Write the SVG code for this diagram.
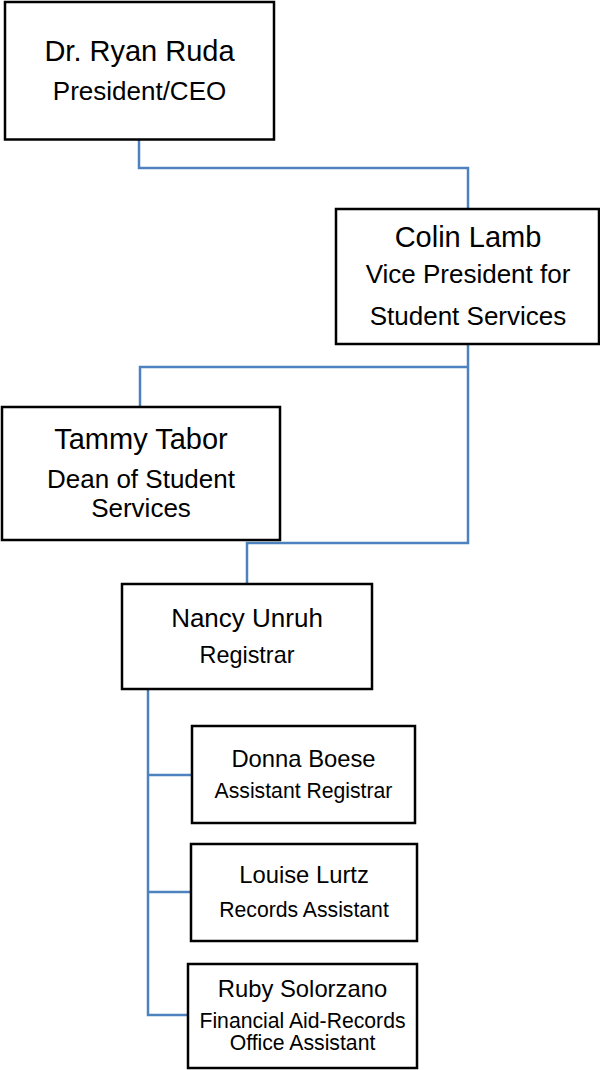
<svg xmlns="http://www.w3.org/2000/svg" width="600" height="1070" viewBox="0 0 600 1070">
<style>
.box{fill:#fff;stroke:#000;stroke-width:2.5}
.con{fill:none;stroke:#4d82be;stroke-width:2.5}
text{font-family:"Liberation Sans",Arial,sans-serif;fill:#000;text-anchor:middle}
.n1{font-size:29px}.t1{font-size:26px}
.n2{font-size:26px}.t2{font-size:23.4px}
.n3{font-size:23.8px}.t3{font-size:21.2px}
</style>
<rect width="600" height="1070" fill="#fff"/>
<g id="connectors">
<path class="con" d="M139 140V168H468V209"/>
<path class="con" d="M468 344V543H247V584"/>
<path class="con" d="M140 407V367H468"/>
<path class="con" d="M148 689V1015H188"/>
<path class="con" d="M148 775H192"/>
<path class="con" d="M148 892H191"/>
</g>
<g id="ruda">
<rect class="box" x="5" y="2" width="269" height="137.5"/>
<text class="n1" x="139.5" y="61">Dr. Ryan Ruda</text>
<text class="t1" x="139.5" y="100">President/CEO</text>
</g>
<g id="lamb">
<rect class="box" x="336" y="209" width="263" height="135"/>
<text class="n1" x="468" y="247">Colin Lamb</text>
<text class="t1" x="468" y="283">Vice President for</text>
<text class="t1" x="468" y="325">Student Services</text>
</g>
<g id="tabor">
<rect class="box" x="2" y="407" width="278" height="133"/>
<text class="n1" x="141" y="449">Tammy Tabor</text>
<text class="t1" x="141" y="488">Dean of Student</text>
<text class="t1" x="141" y="517">Services</text>
</g>
<g id="unruh">
<rect class="box" x="122" y="584" width="250" height="105"/>
<text class="n2" x="247" y="627">Nancy Unruh</text>
<text class="t2" x="247" y="663">Registrar</text>
</g>
<g id="boese">
<rect class="box" x="192" y="726" width="223" height="97"/>
<text class="n3" x="303.5" y="767">Donna Boese</text>
<text class="t3" x="303.5" y="798">Assistant Registrar</text>
</g>
<g id="lurtz">
<rect class="box" x="191" y="844" width="226" height="97"/>
<text class="n3" x="304" y="883">Louise Lurtz</text>
<text class="t3" x="304" y="917">Records Assistant</text>
</g>
<g id="solorzano">
<rect class="box" x="188" y="964" width="229" height="104"/>
<text class="n3" x="302.5" y="997">Ruby Solorzano</text>
<text class="t3" x="302.5" y="1028">Financial Aid-Records</text>
<text class="t3" x="302.5" y="1050">Office Assistant</text>
</g>
</svg>
